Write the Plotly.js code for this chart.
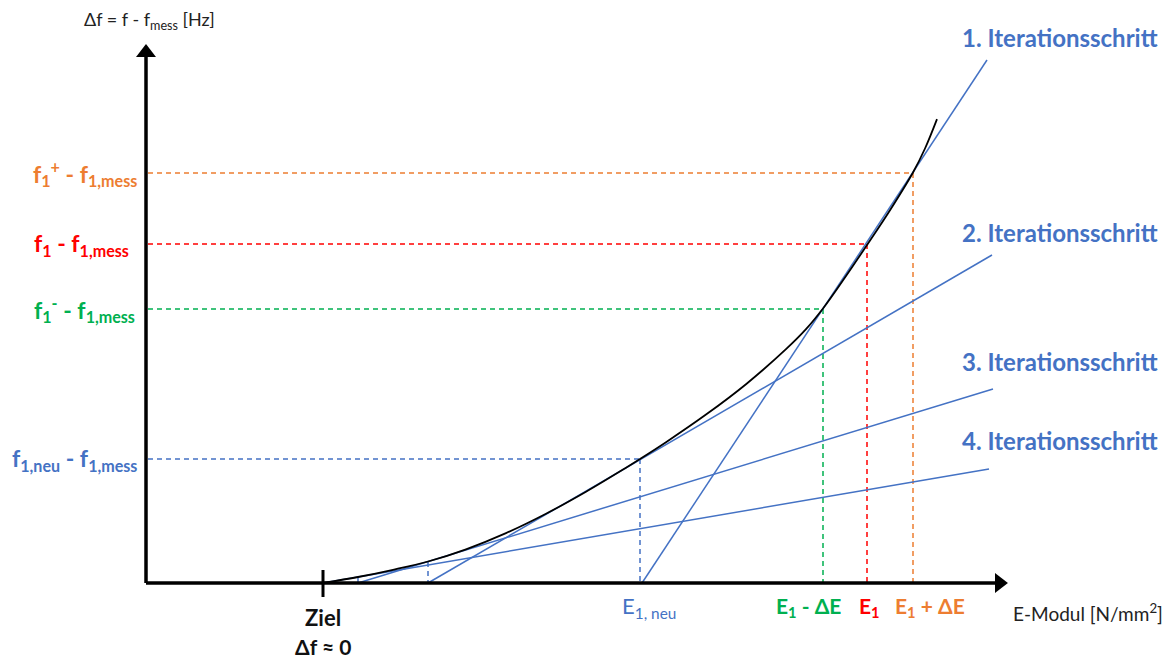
<!DOCTYPE html>
<html>
<head>
<meta charset="utf-8">
<script src="https://cdn.plot.ly/plotly-3.0.1.min.js"></script>
<style>html,body{margin:0;padding:0;background:#fff;}#chart{width:1171px;height:660px;}</style>
</head>
<body>
<div id="chart"></div>
<script>
// ---- data (E-Modul units along x, Δf units along y, origin at axes crossing) ----
const curveE  = [177, 212, 247, 282, 320, 360, 400, 440, 480, 494, 520, 560, 600, 640, 660, 677, 700, 721, 744, 767, 779, 791];
const curveDf = [0, 6, 13.2, 21.5, 33.7, 49.9, 69.3, 91.3, 115.3, 124, 140.8, 168.4, 198.8, 233.8, 253.8, 274.5, 307, 338, 372.8, 410.5, 434.5, 463.9];

const iter1E = [496, 841]; const iter1Df = [0, 523];
const iter2E = [282, 846]; const iter2Df = [0, 328];
const iter3E = [212, 847]; const iter3Df = [0, 194];
const iter4E = [177, 843]; const iter4Df = [0, 114];

// marked points: E1-ΔE, E1, E1+ΔE, E1,neu
const markE  = [677, 721, 767, 494];
const markDf = [274, 339, 410, 124];
const markColors = ['#00B050', '#FF0000', '#ED7D31', '#4472C4'];

// later iteration feet
const stepE  = [282, 212];
const stepDf = [21, 6];

const zielE = 177;
const axisEndE = 849, axisEndDf = 526;

const fLabels = [
  '<b>f<sub>1</sub><sup>-</sup> - f<sub>1,mess</sub></b>',
  '<b>f<sub>1</sub> - f<sub>1,mess</sub></b>',
  '<b>f<sub>1</sub><sup>+</sup> - f<sub>1,mess</sub></b>',
  '<b>f<sub>1,neu</sub> - f<sub>1,mess</sub></b>'
];
const eLabels = [
  '<b>E<sub>1</sub> - ΔE</b>',
  '<b>E<sub>1</sub></b>',
  '<b>E<sub>1</sub> + ΔE</b>',
  'E<sub>1, neu</sub>'
];
const iterLabels = ['1. Iterationsschritt', '2. Iterationsschritt', '3. Iterationsschritt', '4. Iterationsschritt'];
const iterLabelDf = [546, 351, 222, 143];

// ---- styling / placement ----
const BLUE = '#4472C4';
const FONT = 'Lato, "Open Sans", sans-serif';
const fLabelRight = [-9, -15, -7, -7];
const eLabelShift = [-15, 2, 17, 9];

const traces = [];
const dash = '5px,4px';
markE.forEach((e, i) => {
  traces.push({x: [2, e], y: [markDf[i], markDf[i]], mode: 'lines', line: {color: markColors[i], width: 1.5, dash: dash}, hoverinfo: 'skip'});
  traces.push({x: [e, e], y: [markDf[i], 0], mode: 'lines', line: {color: markColors[i], width: 1.5, dash: dash}, hoverinfo: 'skip'});
});
stepE.forEach((e, i) => {
  traces.push({x: [e, e], y: [stepDf[i], 0], mode: 'lines', line: {color: BLUE, width: 1.5, dash: dash}, hoverinfo: 'skip'});
});
[[iter1E, iter1Df], [iter2E, iter2Df], [iter3E, iter3Df], [iter4E, iter4Df]].forEach(([xe, yd]) => {
  traces.push({x: xe, y: yd, mode: 'lines', line: {color: BLUE, width: 1.5}, hoverinfo: 'skip'});
});
traces.push({x: curveE, y: curveDf, mode: 'lines', line: {color: '#000', width: 1.8, shape: 'spline', smoothing: 1}, hoverinfo: 'skip'});
traces.push({x: [0, 0], y: [0, axisEndDf], mode: 'lines', line: {color: '#000', width: 3.5}, hoverinfo: 'skip'});
traces.push({x: [0, axisEndE], y: [0, 0], mode: 'lines', line: {color: '#000', width: 3.5}, hoverinfo: 'skip'});
traces.push({x: [0], y: [axisEndDf + 4.3], mode: 'markers', marker: {symbol: 'triangle-up', size: 17.3, color: '#000'}, hoverinfo: 'skip'});
traces.push({x: [axisEndE + 4.3], y: [0], mode: 'markers', marker: {symbol: 'triangle-right', size: 17.3, color: '#000'}, hoverinfo: 'skip'});
traces.push({x: [zielE, zielE], y: [-14, 13], mode: 'lines', line: {color: '#000', width: 3}, hoverinfo: 'skip'});

const ann = [];
fLabels.forEach((t, i) => {
  ann.push({x: fLabelRight[i], y: markDf[i], xref: 'x', yref: 'y', text: t, showarrow: false, xanchor: 'right', yanchor: 'middle',
    font: {family: FONT, size: 23, color: markColors[i]}});
});
eLabels.forEach((t, i) => {
  ann.push({x: markE[i] + eLabelShift[i], y: -24, xref: 'x', yref: 'y', text: t, showarrow: false, xanchor: 'center', yanchor: 'middle',
    font: {family: FONT, size: i === 3 ? 22 : 21, color: markColors[i]}});
});
iterLabels.forEach((t, i) => {
  ann.push({x: 1014, y: iterLabelDf[i], xref: 'x', yref: 'y', text: '<b>' + t + '</b>', showarrow: false, xanchor: 'right', yanchor: 'middle',
    font: {family: FONT, size: 24, color: BLUE}});
});
ann.push({x: zielE, y: -34, xref: 'x', yref: 'y', text: '<b>Ziel</b>', showarrow: false, xanchor: 'center', yanchor: 'middle', font: {family: FONT, size: 22, color: '#111'}});
ann.push({x: zielE, y: -63, xref: 'x', yref: 'y', text: '<b>Δf ≈ 0</b>', showarrow: false, xanchor: 'center', yanchor: 'middle', font: {family: FONT, size: 21, color: '#111'}});
ann.push({x: 865, y: -29, xref: 'x', yref: 'y', text: 'E-Modul [N/mm<sup>2</sup>]', showarrow: false, xanchor: 'left', yanchor: 'middle', font: {family: FONT, size: 19, color: '#222'}});
ann.push({x: -64, y: 563, xref: 'x', yref: 'y', text: 'Δf = f - f<sub>mess</sub> [Hz]', showarrow: false, xanchor: 'left', yanchor: 'middle', font: {family: FONT, size: 18, color: '#222'}});

const layout = {
  width: 1171, height: 660,
  margin: {l: 0, r: 0, t: 0, b: 0},
  paper_bgcolor: '#fff', plot_bgcolor: '#fff',
  showlegend: false,
  xaxis: {range: [-146, 1025], visible: false, fixedrange: true},
  yaxis: {range: [-77, 583], visible: false, fixedrange: true},
  annotations: ann
};
Plotly.newPlot('chart', traces, layout, {staticPlot: true});
</script>
</body>
</html>
